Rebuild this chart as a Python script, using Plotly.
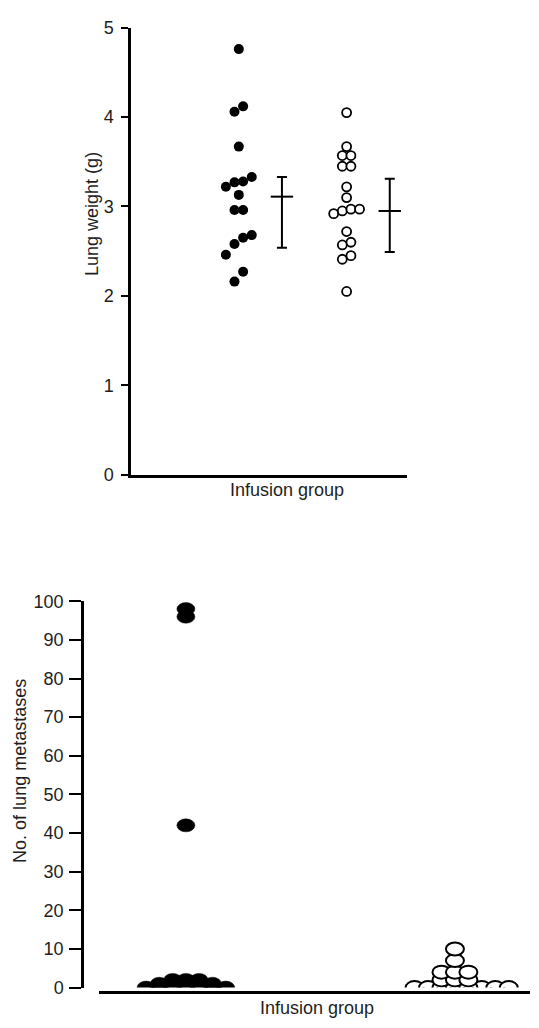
import plotly.graph_objects as go

# ---------------- data ----------------
# Top panel: lung weight (g); x = group position (1 = filled group, 2 = open group) incl. horizontal scatter offsets
filled_w_x = [1.00, 1.04, 0.96, 1.00, 1.12, 1.04, 0.96, 0.88, 1.00, 0.96, 1.04, 1.12, 1.04, 0.96, 0.88, 1.04, 0.96]
filled_w_y = [4.76, 4.12, 4.06, 3.67, 3.33, 3.28, 3.27, 3.22, 3.13, 2.96, 2.96, 2.68, 2.65, 2.58, 2.46, 2.27, 2.16]
open_w_x = [2.00, 2.00, 1.96, 2.04, 1.96, 2.04, 2.00, 2.00, 1.88, 1.96, 2.04, 2.12, 2.00, 1.96, 2.04, 1.96, 2.04, 2.00]
open_w_y = [4.05, 3.67, 3.57, 3.57, 3.45, 3.45, 3.22, 3.10, 2.92, 2.95, 2.97, 2.97, 2.72, 2.57, 2.60, 2.41, 2.45, 2.05]

# summary bars (centre line, upper and lower end)
bar_x = [1.40, 2.40]
bar_mid = [3.11, 2.95]
bar_hi = [3.33, 3.31]
bar_lo = [2.54, 2.49]

# Bottom panel: number of lung metastases
filled_m_x = [1.00, 1.00, 1.00, 0.852, 0.901, 0.951, 1.00, 1.049, 1.099, 1.148, 0.901, 1.099, 0.951, 1.00, 1.049]
filled_m_y = [98, 96, 42, 0, 0, 0, 0, 0, 0, 0, 1, 1, 2, 2, 2]
open_m_x = [1.85, 1.90, 2.10, 2.15, 2.20, 1.95, 1.95, 1.95, 2.00, 2.00, 2.00, 2.00, 2.00, 2.05, 2.05, 2.05]
open_m_y = [0, 0, 0, 0, 0, 0, 2, 4, 0, 2, 4, 7, 10, 0, 2, 4]

top_yticks = [0, 1, 2, 3, 4, 5]
bot_yticks = [0, 10, 20, 30, 40, 50, 60, 70, 80, 90, 100]

FONT = "Liberation Sans, Arial, sans-serif"
TXT = "#1e1e1e"
W, H = 539, 1028

fig = go.Figure()

# ---- top panel ----
fig.add_trace(go.Scatter(
    x=filled_w_x, y=filled_w_y, mode="markers", xaxis="x", yaxis="y",
    marker=dict(symbol="circle", size=10, color="black", line=dict(width=0)),
    showlegend=False, cliponaxis=False))
fig.add_trace(go.Scatter(
    x=open_w_x, y=open_w_y, mode="markers", xaxis="x", yaxis="y",
    marker=dict(symbol="circle", size=9, color="white", line=dict(width=1.8, color="black")),
    showlegend=False, cliponaxis=False))
fig.add_trace(go.Scatter(
    x=bar_x, y=bar_mid, mode="markers", xaxis="x", yaxis="y",
    marker=dict(symbol="line-ew", size=16, line=dict(width=2, color="black")),
    error_y=dict(type="data", symmetric=False,
                 array=[h - m for h, m in zip(bar_hi, bar_mid)],
                 arrayminus=[m - l for m, l in zip(bar_mid, bar_lo)],
                 color="black", thickness=2, width=5),
    showlegend=False, cliponaxis=False))

# ---- bottom panel (ellipse markers drawn as pixel-sized shapes anchored at data values) ----
fig.add_trace(go.Scatter(
    x=filled_m_x, y=filled_m_y, mode="markers", xaxis="x2", yaxis="y2",
    marker=dict(size=13, color="black", opacity=0), showlegend=False, cliponaxis=False))
fig.add_trace(go.Scatter(
    x=open_m_x, y=open_m_y, mode="markers", xaxis="x2", yaxis="y2",
    marker=dict(size=13, color="white", opacity=0), showlegend=False, cliponaxis=False))

shapes = []
def ell(xv, yv, fill):
    return dict(type="circle", xref="x2", yref="y2",
                xsizemode="pixel", xanchor=xv, x0=-9, x1=9,
                ysizemode="pixel", yanchor=yv, y0=-6.5, y1=6.5,
                fillcolor=fill, line=dict(color="black", width=2 if fill == "white" else 0.5),
                layer="above")
for xv, yv in zip(filled_m_x, filled_m_y):
    shapes.append(ell(xv, yv, "black"))
for xv, yv in sorted(zip(open_m_x, open_m_y), key=lambda p: p[1]):
    shapes.append(ell(xv, yv, "white"))

axis_common = dict(showgrid=False, zeroline=False, showline=True, linecolor="black",
                   linewidth=2.5, mirror=False,
                   tickfont=dict(family=FONT, size=18, color=TXT))

fig.update_layout(
    width=W, height=H, margin=dict(l=0, r=0, t=0, b=0),
    paper_bgcolor="white", plot_bgcolor="white", showlegend=False,
    xaxis=dict(domain=[131 / W, 407 / W], range=[0, 2.56], anchor="y",
               showticklabels=False, ticks="", **axis_common),
    yaxis=dict(domain=[1 - 474 / H, 1 - 18 / H], range=[0, 5], anchor="x",
               tickvals=top_yticks, ticktext=[str(v) for v in top_yticks],
               ticks="outside", ticklen=7, tickwidth=2, tickcolor="black",
               ticklabelstandoff=4, **axis_common),
    xaxis2=dict(domain=[99 / W, 530 / W], range=[0.677, 2.279], anchor="free",
                position=1 - 1001.7 / H, showticklabels=False, ticks="", **axis_common),
    yaxis2=dict(domain=[1 - 997 / H, 1 - 603 / H], range=[0, 100], anchor="free",
                position=82 / W,
                tickvals=bot_yticks, ticktext=[str(v) for v in bot_yticks],
                ticks="outside", ticklen=12, tickwidth=2, tickcolor="black",
                ticklabelstandoff=2, **axis_common),
    shapes=shapes,
    annotations=[
        dict(text="Lung weight (g)", x=92 / W, y=1 - 208 / H, xref="paper", yref="paper",
             textangle=-90, showarrow=False, font=dict(family=FONT, size=18, color=TXT),
             xanchor="center", yanchor="middle"),
        dict(text="Infusion group", x=286.5 / W, y=1 - 490 / H, xref="paper", yref="paper",
             showarrow=False, font=dict(family=FONT, size=18, color=TXT),
             xanchor="center", yanchor="middle"),
        dict(text="No. of lung metastases", x=20 / W, y=1 - 776 / H, xref="paper", yref="paper",
             textangle=-90, showarrow=False, font=dict(family=FONT, size=18, color=TXT),
             xanchor="center", yanchor="middle"),
        dict(text="Infusion group", x=317 / W, y=1 - 1018 / H, xref="paper", yref="paper",
             showarrow=False, font=dict(family=FONT, size=18, color=TXT),
             xanchor="center", yanchor="middle"),
    ],
)

fig.write_html("out.html")
